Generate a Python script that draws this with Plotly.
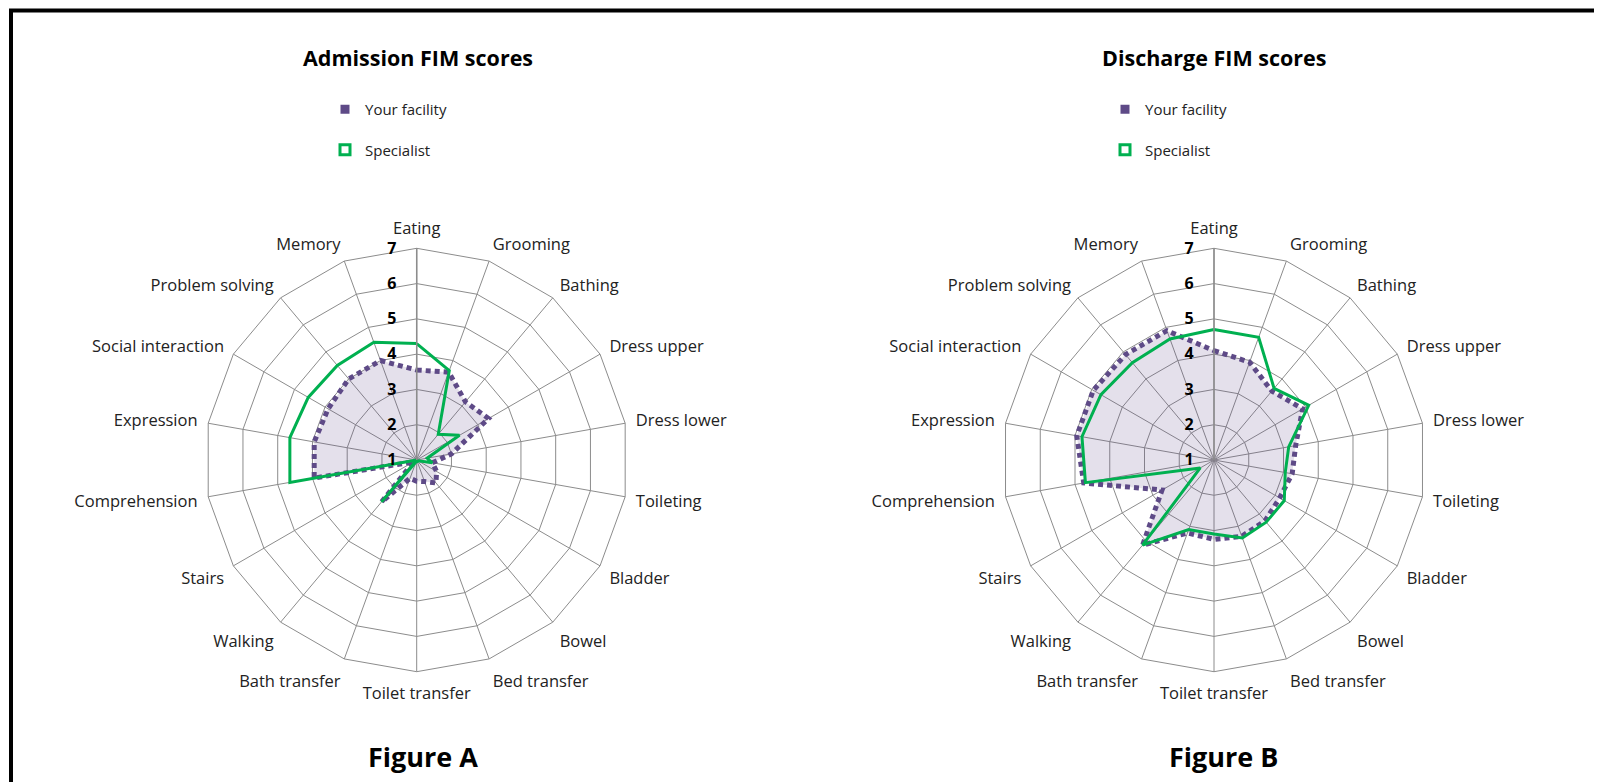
import plotly.graph_objects as go

# FIM items, clockwise from the top
categorias = ['Eating', 'Grooming', 'Bathing', 'Dress upper', 'Dress lower', 'Toileting',
              'Bladder', 'Bowel', 'Bed transfer', 'Toilet transfer', 'Bath transfer',
              'Walking', 'Stairs', 'Comprehension', 'Expression', 'Social interaction',
              'Problem solving', 'Memory']

# ADMISSAO
adm_facility = [3.55, 3.65, 3.15, 3.35, 2.0, 1.45, 1.65, 1.85, 1.65, 1.6, 1.55, 2.55,
                1.1, 3.95, 3.95, 3.9, 4.0, 4.0]
adm_specialist = [4.3, 3.7, 1.95, 2.4, 1.3, 1.45, 1.05, 1.05, 1.05, 1.05, 1.05, 2.55,
                  1.0, 4.65, 4.65, 4.55, 4.5, 4.55]

# ALTA
dis_facility = [4.1, 3.95, 3.55, 3.9, 3.35, 3.25, 3.15, 3.25, 3.3, 3.25, 3.2, 4.15,
                2.7, 4.75, 4.95, 4.95, 4.9, 4.9]
dis_specialist = [4.7, 4.7, 3.65, 4.1, 3.15, 3.05, 3.3, 3.3, 3.35, 3.1, 3.1, 4.15,
                  1.45, 4.7, 4.8, 4.7, 4.6, 4.65]

ticks = [1, 2, 3, 4, 5, 6, 7]

W, H = 1602, 782
OFF = 8  # margem do body na pagina
roxo = '#5E4A87'
verde = '#00B050'
fonte = 'Open Sans'

def fechar(v):
    return list(v) + [v[0]]

fig = go.Figure()

paineis = [('polar', 'legend', adm_facility, adm_specialist),
           ('polar2', 'legend2', dis_facility, dis_specialist)]

for sp, leg, fac, spec in paineis:
    fig.add_trace(go.Scatterpolar(r=fechar(fac), theta=fechar(categorias), subplot=sp,
                                  mode='lines', fill='toself', fillcolor='rgba(94,74,135,0.17)',
                                  line=dict(color=roxo, width=5, dash='5px,4px'),
                                  showlegend=False, hoverinfo='skip'))
    fig.add_trace(go.Scatterpolar(r=fechar(spec), theta=fechar(categorias), subplot=sp,
                                  mode='lines', line=dict(color=verde, width=3),
                                  showlegend=False, hoverinfo='skip'))
    # legenda
    fig.add_trace(go.Scatterpolar(r=[None], theta=[categorias[0]], subplot=sp, mode='markers',
                                  marker=dict(symbol='square', size=9, color=roxo),
                                  name='Your facility', legend=leg, legendgroup='a'))
    fig.add_trace(go.Scatterpolar(r=[None], theta=[categorias[0]], subplot=sp, mode='markers',
                                  marker=dict(symbol='square-open', size=10, color=verde,
                                              line=dict(width=3, color=verde)),
                                  name='Specialist', legend=leg, legendgroup='b'))

def polar_cfg(cx):
    raio = 211.7
    cx = cx - OFF
    cy = H - (460 - OFF)
    return dict(
        domain=dict(x=[(cx - raio) / W, (cx + raio) / W], y=[(cy - raio) / H, (cy + raio) / H]),
        gridshape='linear', bgcolor='white',
        angularaxis=dict(direction='clockwise', rotation=90, showgrid=True, gridcolor='#8c8c8c',
                         gridwidth=1, linecolor='#8c8c8c', linewidth=1, ticks='outside',
                         ticklen=7, tickcolor='rgba(0,0,0,0)',
                         tickfont=dict(family=fonte, size=16.5, color='#222222')),
        radialaxis=dict(range=[1, 7], tickvals=ticks, angle=90, tickangle=90, side='counterclockwise',
                        showline=True, linecolor='#8c8c8c', linewidth=1.5,
                        gridcolor='#8c8c8c', gridwidth=1, ticks='outside', ticklen=14,
                        tickcolor='rgba(0,0,0,0)',
                        tickfont=dict(family=fonte, size=16, color='black', weight='bold')),
    )

leg_cfg = dict(yanchor='top', xanchor='left', tracegroupgap=18, y=1 - (93 - OFF) / H,
               font=dict(family=fonte, size=15, color='#222222'), bgcolor='rgba(0,0,0,0)')

fig.update_layout(
    width=W, height=H, margin=dict(l=0, r=0, t=0, b=0),
    paper_bgcolor='white', plot_bgcolor='white',
    polar=polar_cfg(416.7), polar2=polar_cfg(1214),
    legend=dict(leg_cfg, x=(325 - OFF) / W),
    legend2=dict(leg_cfg, x=(1105 - OFF) / W),
    shapes=[dict(type='rect', xref='paper', yref='paper', x0=(11 - OFF) / W, x1=1.05, y0=-0.05,
                 y1=1 - (10.5 - OFF) / H, line=dict(color='black', width=4))],
)

titulos = [('Admission FIM scores', 417.5, 58, 21.5),
           ('Discharge FIM scores', 1214, 58, 21.5),
           ('Figure A', 422.5, 756, 27),
           ('Figure B', 1223, 756, 27)]
for txt, x, y, tam in titulos:
    fig.add_annotation(text='<b>' + txt + '</b>', x=(x - OFF) / W, y=1 - (y - OFF) / H,
                       xref='paper', yref='paper', showarrow=False,
                       xanchor='center', yanchor='middle',
                       font=dict(family=fonte, size=tam, color='black'))

fig.write_html('out.html')
